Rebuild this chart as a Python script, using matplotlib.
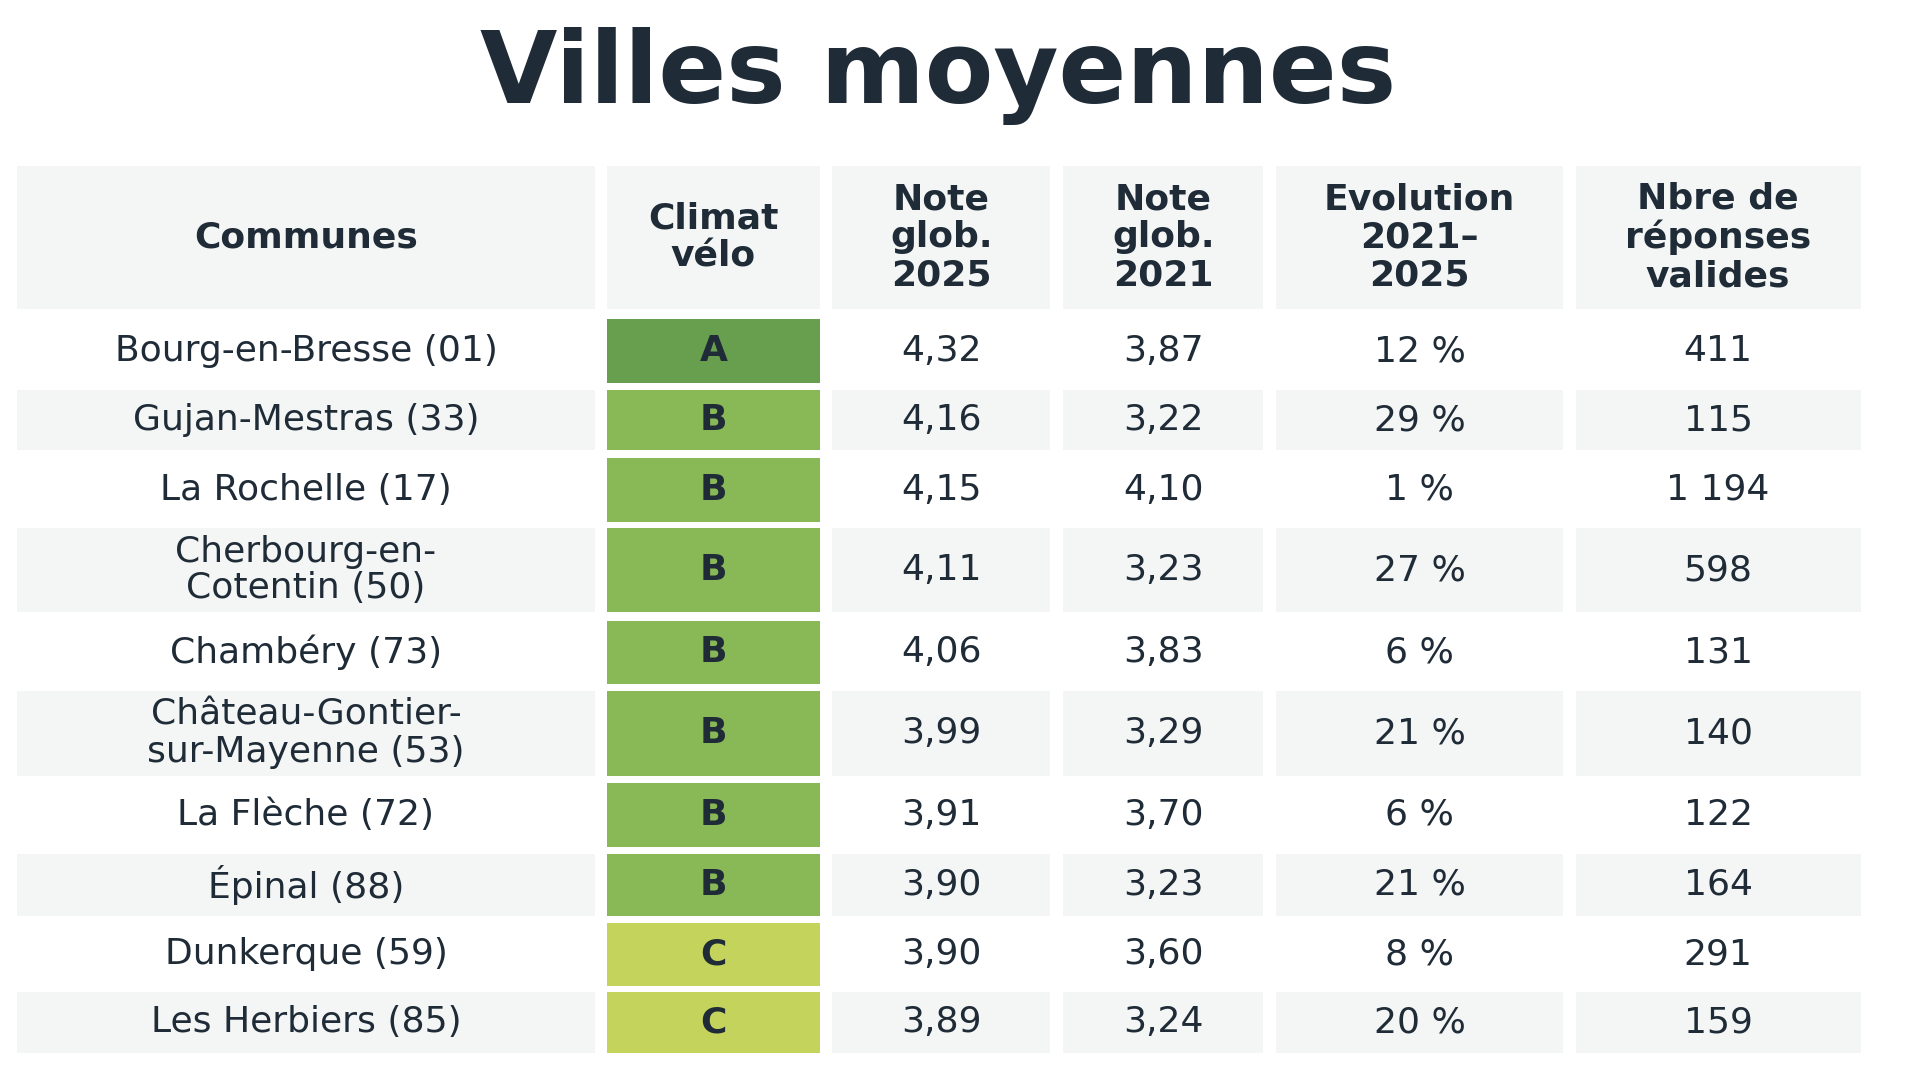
import matplotlib
matplotlib.use('Agg')
import matplotlib.pyplot as plt
from matplotlib.patches import Rectangle

title = "Villes moyennes"
headers = ["Communes", "Climat\nvélo", "Note\nglob.\n2025", "Note\nglob.\n2021",
           "Evolution\n2021–\n2025", "Nbre de\nréponses\nvalides"]
communes = ["Bourg-en-Bresse (01)", "Gujan-Mestras (33)", "La Rochelle (17)",
            "Cherbourg-en-\nCotentin (50)", "Chambéry (73)",
            "Château-Gontier-\nsur-Mayenne (53)", "La Flèche (72)", "Épinal (88)",
            "Dunkerque (59)", "Les Herbiers (85)"]
climat = ["A", "B", "B", "B", "B", "B", "B", "B", "C", "C"]
note_2025 = ["4,32", "4,16", "4,15", "4,11", "4,06", "3,99", "3,91", "3,90", "3,90", "3,89"]
note_2021 = ["3,87", "3,22", "4,10", "3,23", "3,83", "3,29", "3,70", "3,23", "3,60", "3,24"]
evolution = ["12 %", "29 %", "1 %", "27 %", "6 %", "21 %", "6 %", "21 %", "8 %", "20 %"]
reponses = ["411", "115", "1 194", "598", "131", "140", "122", "164", "291", "159"]

# layout in reference pixel units (1550 x 880 canvas)
col_x = [(14, 480), (490, 662), (672, 848), (858, 1020), (1030, 1262), (1272, 1502)]
header_y = (135, 252)
row_y = [(260, 312), (318, 367), (373, 425), (430, 499), (506, 557),
         (563, 632), (638, 690), (696, 746), (752, 803), (808, 858)]
grade_colors = {"A": "#689f4f", "B": "#89b957", "C": "#c4d35c"}
text_color = "#1f2b36"
gray = "#f4f6f6"
font = 'DejaVu Sans'

fig = plt.figure(figsize=(19.2, 10.8), dpi=100)
ax = fig.add_axes([0, 0, 1, 1])
ax.set_xlim(0, 1550)
ax.set_ylim(880, 0)
ax.axis('off')

ax.text(757, 62, title, ha='center', va='center', fontsize=72,
        fontweight='bold', family=font, color=text_color)

# header
for (x0, x1), h in zip(col_x, headers):
    ax.add_patch(Rectangle((x0, header_y[0]), x1 - x0, header_y[1] - header_y[0],
                           color=gray, lw=0))
    ax.text((x0 + x1) / 2, sum(header_y) / 2, h, ha='center', va='center',
            fontsize=26, fontweight='bold', family=font, color=text_color,
            linespacing=1.15)

for i, (y0, y1) in enumerate(row_y):
    cells = [communes[i], climat[i], note_2025[i], note_2021[i], evolution[i], reponses[i]]
    for j, ((x0, x1), val) in enumerate(zip(col_x, cells)):
        if j == 1:
            ax.add_patch(Rectangle((x0, y0), x1 - x0, y1 - y0,
                                   color=grade_colors[val], lw=0))
        elif i % 2 == 1:
            ax.add_patch(Rectangle((x0, y0), x1 - x0, y1 - y0, color=gray, lw=0))
        ax.text((x0 + x1) / 2, (y0 + y1) / 2, val, ha='center', va='center',
                fontsize=26, family=font, color=text_color,
                fontweight='bold' if j == 1 else 'normal', linespacing=1.1)

fig.savefig("out.png", dpi=100)
